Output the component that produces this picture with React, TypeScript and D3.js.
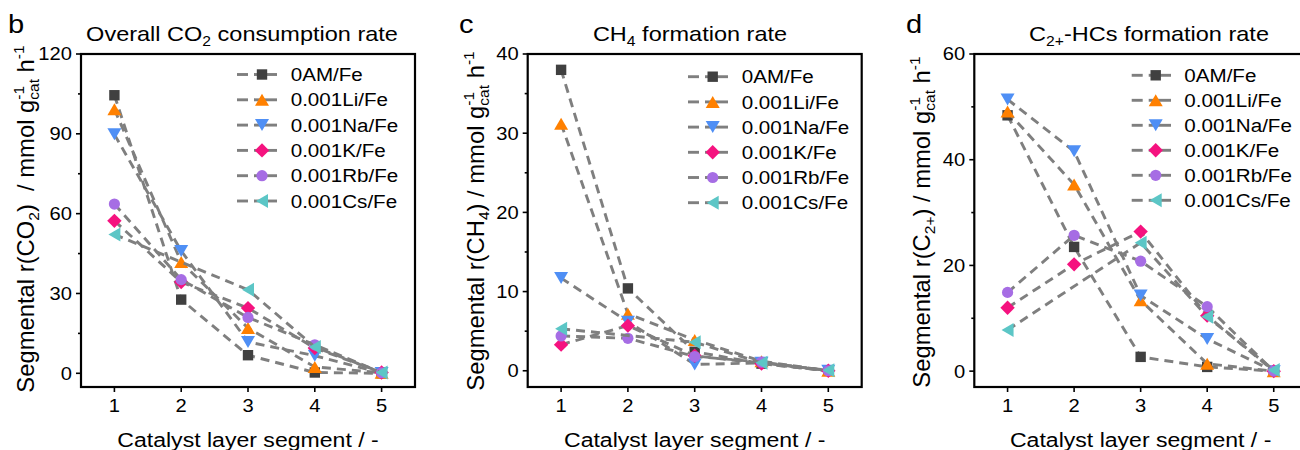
import React from 'react';
import * as d3 from 'd3';

// ---------- DATA ----------
const segments = [1, 2, 3, 4, 5];
const sampleNames = ['0AM/Fe', '0.001Li/Fe', '0.001Na/Fe', '0.001K/Fe', '0.001Rb/Fe', '0.001Cs/Fe'];

// Overall CO2 consumption rate (rows follow sampleNames, columns follow segments)
const co2Rates: (number | null)[][] = [
  [104.5, 27.7, 6.8, 0.3, 0.0],
  [99.2, 41.8, 17.0, 2.4, 0.2],
  [89.8, 46.0, 11.8, 6.6, 0.1],
  [57.3, 34.3, 24.5, 9.5, 0.3],
  [63.6, 35.2, 21.0, 10.7, 0.2],
  [52.2, null, 31.4, 9.9, 0.3],
];
// CH4 formation rate
const ch4Rates: (number | null)[][] = [
  [38.0, 10.4, 2.4, 0.9, 0.0],
  [31.2, 7.2, 3.9, 1.2, 0.0],
  [11.7, 6.2, 0.8, 1.0, 0.0],
  [3.3, 5.7, 1.9, 0.9, 0.0],
  [4.4, 4.1, 1.8, 1.1, 0.0],
  [5.3, null, 3.6, 1.0, 0.05],
];
// C2+-HCs formation rate
const c2Rates: (number | null)[][] = [
  [48.4, 23.5, 2.7, 0.8, 0.0],
  [49.1, 35.3, 13.4, 1.4, 0.0],
  [51.4, 41.6, 14.3, 6.1, 0.0],
  [12.0, 20.2, 26.4, 10.5, 0.0],
  [14.9, 25.7, 20.8, 12.2, 0.0],
  [7.8, null, 24.3, 10.3, 0.2],
];

const co2Ticks = [0, 30, 60, 90, 120];
const ch4Ticks = [0, 10, 20, 30, 40];
const c2Ticks = [0, 20, 40, 60];

// ---------- STYLE ----------
const seriesColors = ['#404040', '#ff8000', '#4f8ff5', '#f5127f', '#a66de4', '#5cc6c6'];
const seriesShapes = ['square', 'triUp', 'triDown', 'diamond', 'circle', 'triLeft'];
const lineColor = '#7f7f7f';
const FONT = "'Liberation Sans', Arial, Helvetica, sans-serif";
const SX = 1.12;

function markerPath(shape: string): string {
  switch (shape) {
    case 'square': { const h = 5.2; return `M${-h},${-h}H${h}V${h}H${-h}Z`; }
    case 'triUp': { const w = 14, h = 12; return `M0,${-h / 2}L${w / 2},${h / 2}L${-w / 2},${h / 2}Z`; }
    case 'triDown': { const w = 14, h = 12; return `M0,${h / 2}L${w / 2},${-h / 2}L${-w / 2},${-h / 2}Z`; }
    case 'diamond': { const r = 7.2; return `M0,${-r}L${r},0L0,${r}L${-r},0Z`; }
    case 'triLeft': { const w = 12, h = 14; return `M${-w / 2},0L${w / 2},${-h / 2}L${w / 2},${h / 2}Z`; }
    default: { const r = 5.6; return `M${r},0A${r},${r} 0 1,1 ${-r},0A${r},${r} 0 1,1 ${r},0Z`; }
  }
}

const ht = (x: number, y: number) => `translate(${x},${y}) scale(${SX},1)`;

type PanelCfg = {
  letter: string; letterX: number;
  x0: number; x1: number; y0: number; y1: number;
  yMin: number; yMax: number; ticks: number[];
  values: (number | null)[][];
  legX0: number; legMX: number; legX1: number; legTX: number; legY0: number; legDY: number;
  titleX: number; yTitleX: number; yTitleY: number; kind: string;
};

const panels: PanelCfg[] = [
  { letter: 'b', letterX: 8, x0: 81, x1: 415, y0: 54, y1: 387, yMin: -5.15, yMax: 120, ticks: co2Ticks, values: co2Rates,
    legX0: 237, legMX: 262, legX1: 277, legTX: 290.7, legY0: 74.5, legDY: 25.3, titleX: 242, yTitleX: 33.5, yTitleY: 219, kind: 'co2' },
  { letter: 'c', letterX: 459, x0: 527.7, x1: 861.7, y0: 54, y1: 387, yMin: -2.05, yMax: 40, ticks: ch4Ticks, values: ch4Rates,
    legX0: 688, legMX: 712.7, legX1: 728, legTX: 741.7, legY0: 76.7, legDY: 25.2, titleX: 690, yTitleX: 483.5, yTitleY: 221, kind: 'ch4' },
  { letter: 'd', letterX: 906, x0: 974.3, x1: 1307, y0: 54, y1: 387, yMin: -3.0, yMax: 60, ticks: c2Ticks, values: c2Rates,
    legX0: 1131.7, legMX: 1155.7, legX1: 1171, legTX: 1184.3, legY0: 75.3, legDY: 25, titleX: 1149, yTitleX: 930, yTitleY: 222, kind: 'c2' },
];

function Title({ p }: { p: PanelCfg }) {
  const fs = 21;
  const s = 14;
  let content: React.ReactNode;
  if (p.kind === 'co2') content = (<>Overall CO<tspan fontSize={s} dy={5}>2</tspan><tspan dy={-5}> consumption rate</tspan></>);
  else if (p.kind === 'ch4') content = (<>CH<tspan fontSize={s} dy={5}>4</tspan><tspan dy={-5}> formation rate</tspan></>);
  else content = (<>C<tspan fontSize={s} dy={5}>2+</tspan><tspan dy={-5}>-HCs formation rate</tspan></>);
  return <text transform={ht(p.titleX, 40.7)} textAnchor="middle" fontSize={fs} fill="#000">{content}</text>;
}

function YTitle({ p }: { p: PanelCfg }) {
  const fs = 23.8;
  const s = 15.5;
  const supW = 0.889 * s; // width of "-1"
  const species = p.kind === 'co2'
    ? (<>CO<tspan fontSize={s} dy={5}>2</tspan><tspan dy={-5}>)  / mmol g</tspan></>)
    : p.kind === 'ch4'
      ? (<>CH<tspan fontSize={s} dy={5}>4</tspan><tspan dy={-5}>) / mmol g</tspan></>)
      : (<>C<tspan fontSize={s} dy={5}>2+</tspan><tspan dy={-5}>) / mmol g</tspan></>);
  return (
    <text transform={`translate(${p.yTitleX},${p.yTitleY}) rotate(-90)`} textAnchor="middle" fontSize={fs} fill="#000" style={{ whiteSpace: 'pre' }}>
      Segmental r({species}
      <tspan fontSize={s} dy={-10}>-1</tspan>
      <tspan fontSize={s} dx={-supW} dy={15}>cat</tspan>
      <tspan dy={-5}> h</tspan>
      <tspan fontSize={s} dy={-10}>-1</tspan>
    </text>
  );
}

function Panel({ p }: { p: PanelCfg }) {
  const x = d3.scaleLinear().domain([0.5, 5.5]).range([p.x0, p.x1]);
  const y = d3.scaleLinear().domain([p.yMin, p.yMax]).range([p.y1, p.y0]);
  const step = p.ticks[1] - p.ticks[0];
  const minors = p.ticks.slice(0, -1).map(t => t + step / 2);
  const line = d3.line<[number, number]>().x(d => x(d[0])).y(d => y(d[1]));

  return (
    <g>
      <text transform={ht(p.letterX, 33)} fontSize={26} fill="#000">{p.letter}</text>
      <Title p={p} />
      <YTitle p={p} />
      <text transform={ht((p.x0 + Math.min(p.x1, p.x0 + 334)) / 2, 446.5)} textAnchor="middle" fontSize={20.6} fill="#000">Catalyst layer segment / -</text>

      {/* y ticks */}
      {p.ticks.map(t => (
        <g key={'yt' + t}>
          <line x1={p.x0 - 5} x2={p.x0} y1={y(t)} y2={y(t)} stroke="#000" strokeWidth={1.6} />
          <text transform={ht(p.x0 - 9, y(t))} dy="0.36em" textAnchor="end" fontSize={18} fill="#000">{t}</text>
        </g>
      ))}
      {minors.map(t => (
        <line key={'ym' + t} x1={p.x0 - 3} x2={p.x0} y1={y(t)} y2={y(t)} stroke="#000" strokeWidth={1.6} />
      ))}
      {/* x ticks */}
      {segments.map(s => (
        <g key={'xt' + s}>
          <line x1={x(s)} x2={x(s)} y1={p.y1} y2={p.y1 + 5} stroke="#000" strokeWidth={1.6} />
          <text transform={ht(x(s), 411.7)} textAnchor="middle" fontSize={18} fill="#000">{s}</text>
        </g>
      ))}

      {/* series */}
      {p.values.map((row, i) => {
        const pts = row.map((v, j) => [segments[j], v] as [number, number | null])
          .filter(d => d[1] !== null) as [number, number][];
        return (
          <g key={'s' + i}>
            <path d={line(pts) || ''} fill="none" stroke={lineColor} strokeWidth={2.9} strokeDasharray="9,6" />
            {pts.map((d, j) => (
              <path key={j} d={markerPath(seriesShapes[i])} transform={`translate(${x(d[0])},${y(d[1])})`} fill={seriesColors[i]} />
            ))}
          </g>
        );
      })}

      {/* frame */}
      <rect x={p.x0} y={p.y0} width={p.x1 - p.x0} height={p.y1 - p.y0} fill="none" stroke="#000" strokeWidth={2.2} />

      {/* legend */}
      {sampleNames.map((n, i) => {
        const ly = p.legY0 + i * p.legDY;
        return (
          <g key={'lg' + i}>
            <line x1={p.legX0} x2={p.legX0 + 11} y1={ly} y2={ly} stroke={lineColor} strokeWidth={2.9} />
            <line x1={p.legX0 + 17} x2={p.legX1} y1={ly} y2={ly} stroke={lineColor} strokeWidth={2.9} />
            <path d={markerPath(seriesShapes[i])} transform={`translate(${p.legMX},${ly})`} fill={seriesColors[i]} />
            <text transform={ht(p.legTX, ly)} dy="0.36em" fontSize={18.4} fill="#000">{n}</text>
          </g>
        );
      })}
    </g>
  );
}

export default function App() {
  return (
    <svg width={1300} height={450} style={{ position: 'absolute', left: 0, top: 0, background: '#fff', overflow: 'hidden' }} fontFamily={FONT}>
      <rect x={0} y={0} width={1300} height={450} fill="#fff" />
      {panels.map(p => <Panel key={p.letter} p={p} />)}
    </svg>
  );
}
